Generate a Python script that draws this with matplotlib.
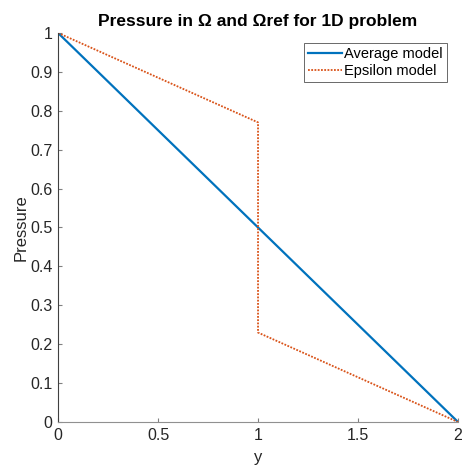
import numpy as np
import matplotlib.pyplot as plt

plt.rcParams['font.family'] = ['Liberation Sans', 'DejaVu Sans']

# ── Data ─────────────────────────────────────────────────────────────────────
avg_y = [0, 2]
avg_p = [1, 0]

eps_y = [0, 1, 1, 2]
eps_p = [1, 0.77, 0.23, 0]

xticks = [0, 0.5, 1, 1.5, 2]
yticks = [0, 0.1, 0.2, 0.3, 0.4, 0.5, 0.6, 0.7, 0.8, 0.9, 1]

# ── Figure ───────────────────────────────────────────────────────────────────
fig = plt.figure(figsize=(4.62, 4.70), dpi=100)
ax = fig.add_axes([0.1255, 0.102, 0.866, 0.828])

ax.plot(avg_y, avg_p, color="#0072BD", linewidth=1.6, label="Average model")
ax.plot(eps_y, eps_p, color="#D95319", linewidth=1.3, linestyle=(0, (1, 0.8)),
        label="Epsilon model")

ax.set_xlim(0, 2)
ax.set_ylim(0, 1)
ax.set_xticks(xticks)
ax.set_xticklabels(["0", "0.5", "1", "1.5", "2"])
ax.set_yticks(yticks)
ax.set_yticklabels(["0", "0.1", "0.2", "0.3", "0.4", "0.5", "0.6", "0.7", "0.8", "0.9", "1"])

for side in ("top", "right"):
    ax.spines[side].set_visible(False)
ax.spines["left"].set_color("#404040")
ax.spines["bottom"].set_color("#909090")
for side in ("left", "bottom"):
    ax.spines[side].set_linewidth(0.8)
ax.tick_params(direction="in", length=3, color="#808080", labelcolor="#262626",
               labelsize=11.5, pad=4)

ax.set_xlabel("y", fontsize=12, color="#262626", labelpad=5)
ax.set_ylabel("Pressure", fontsize=12, color="#262626", labelpad=1)
ax.set_title("Pressure in Ω and Ωref for 1D problem", fontsize=12.5,
             fontweight="bold", color="black", pad=5)

leg = ax.legend(loc="upper right", bbox_to_anchor=(0.972, 0.975), fontsize=10.5,
                frameon=True, fancybox=False, borderpad=0.3, labelspacing=0.2,
                handlelength=2.3, handletextpad=0.15, borderaxespad=0)
leg.get_frame().set_edgecolor("#262626")
leg.get_frame().set_linewidth(0.6)

fig.savefig("out.png", dpi=100)
plt.close(fig)
